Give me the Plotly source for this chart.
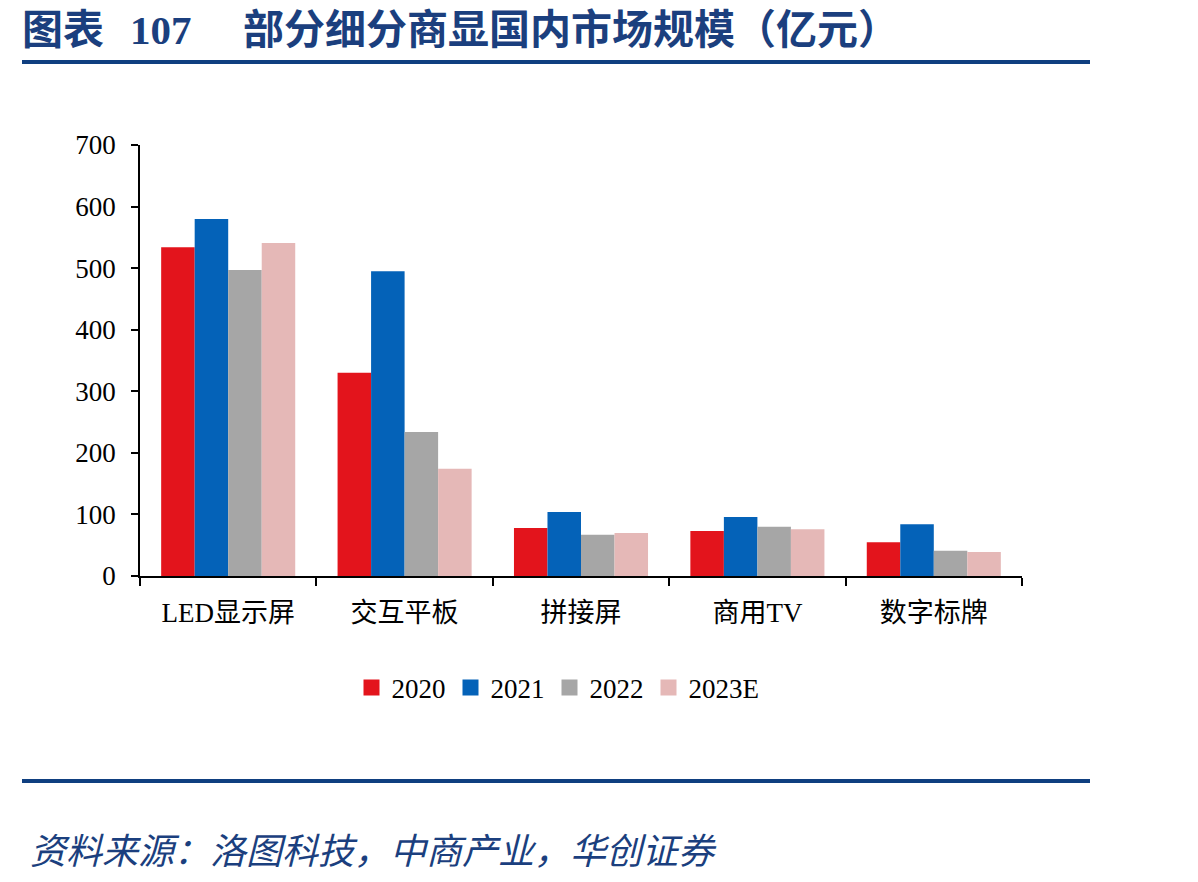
import plotly.graph_objects as go

categories = ["LED显示屏", "交互平板", "拼接屏", "商用TV", "数字标牌"]
series_names = ["2020", "2021", "2022", "2023E"]
v2020 = [534, 330, 78, 73, 55]
v2021 = [580, 495, 104, 96, 84]
v2022 = [497, 234, 67, 80, 41]
v2023e = [541, 174, 70, 76, 39]
y_ticks = [0, 100, 200, 300, 400, 500, 600, 700]

colors = ["#E3141C", "#0462B8", "#A6A6A6", "#E5B8B7"]
values = [v2020, v2021, v2022, v2023e]

FONT = "Liberation Serif, Times New Roman, Noto Sans CJK SC, serif"
BLUE = "#1B3F7E"

fig = go.Figure()
for name, vals, c in zip(series_names, values, colors):
    fig.add_trace(go.Bar(x=categories, y=vals, name=name, showlegend=False,
                         marker=dict(color=c, line=dict(width=0))))
# legend proxies (larger square swatches)
for name, c in zip(series_names, colors):
    fig.add_trace(go.Scatter(x=[None], y=[None], mode="markers", name=name,
                             marker=dict(symbol="square", size=20, color=c)))

L, R, T, B = 140, 1022, 145, 576
W, H = 1198, 882
def px(x):
    return (x - L) / (R - L)
def py(y):
    return (B - y) / (B - T)

title_font = dict(family="Liberation Serif, Noto Sans CJK SC", size=41, color=BLUE)

fig.update_layout(
    width=W, height=H,
    margin=dict(l=L, r=W - R, t=T, b=H - B),
    paper_bgcolor="white", plot_bgcolor="white",
    barmode="group", bargap=0.24, bargroupgap=0,
    font=dict(family=FONT, size=27, color="black"),
    showlegend=True,
    legend=dict(orientation="h", x=px(558), xanchor="center", y=py(688), yanchor="middle",
                font=dict(family=FONT, size=27, color="black"), itemwidth=30,
                itemsizing="trace"),
    xaxis=dict(showline=True, linecolor="black", linewidth=1.5, ticks="outside", ticklen=8,
               tickwidth=1.5, tickcolor="black", tickson="boundaries", ticklabelstandoff=12,
               tickfont=dict(family=FONT, size=27)),
    yaxis=dict(range=[0, 700], tickvals=y_ticks, showline=True, linecolor="black", linewidth=1.5,
               ticks="outside", ticklen=7, tickwidth=1.5, tickcolor="black", showgrid=False,
               zeroline=False, ticklabelstandoff=10, tickfont=dict(family=FONT, size=27)),
    shapes=[
        dict(type="line", xref="paper", yref="paper", x0=px(22), x1=px(1090), y0=py(62), y1=py(62),
             line=dict(color="#0F3F80", width=4)),
        dict(type="line", xref="paper", yref="paper", x0=px(22), x1=px(1090), y0=py(781), y1=py(781),
             line=dict(color="#0F3F80", width=4)),
    ],
    annotations=[
        dict(text="<b>图表</b>", xref="paper", yref="paper",
             x=px(20), y=py(30), xanchor="left", yanchor="middle", showarrow=False, font=title_font),
        dict(text="<b>107</b>", xref="paper", yref="paper",
             x=px(128), y=py(30), xanchor="left", yanchor="middle", showarrow=False, font=title_font),
        dict(text="<b>部分细分商显国内市场规模（亿元）</b>", xref="paper", yref="paper",
             x=px(241), y=py(30), xanchor="left", yanchor="middle", showarrow=False, font=title_font),
        dict(text="<i>资料来源：洛图科技，中商产业，华创证券</i>", xref="paper", yref="paper",
             x=px(28), y=py(848), xanchor="left", yanchor="middle", showarrow=False,
             font=dict(family="Noto Sans CJK SC", size=36, color=BLUE)),
    ],
)

fig.write_html("out.html")
